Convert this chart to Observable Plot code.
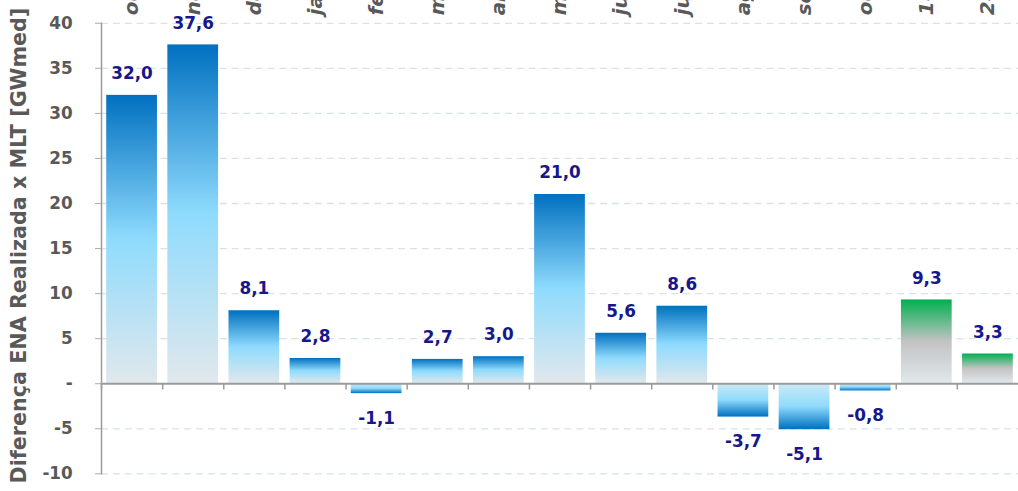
<!DOCTYPE html>
<html>
<head>
<meta charset="utf-8">
<script src="https://cdn.jsdelivr.net/npm/d3@7"></script>
<script src="https://cdn.jsdelivr.net/npm/@observablehq/plot@0.6"></script>
<style>
  html, body { margin: 0; padding: 0; background: #fff; overflow: hidden; }
  #chart { width: 1018px; height: 491px; overflow: hidden; }
</style>
</head>
<body>
<div id="chart"></div>
<script>
const categories = ["out/23","nov/23","dez/23","jan/24","fev/24","mar/24","abr/24","mai/24","jun/24","jul/24","ago/24","set/24","out/24","1ª sem. nov/24","2ª sem. nov/24"];
const values = [32.0, 37.6, 8.1, 2.8, -1.1, 2.7, 3.0, 21.0, 5.6, 8.6, -3.7, -5.1, -0.8, 9.3, 3.3];
const kinds = ["real","real","real","real","real","real","real","real","real","real","real","real","real","prev","prev"];
const yTicks = [-10, -5, 0, 5, 10, 15, 20, 25, 30, 35, 40];
const yTitle = "Diferença ENA Realizada x MLT [GWmed]";

const data = categories.map((c, i) => ({cat: c, value: values[i], kind: kinds[i]}));
const fmt = v => v.toFixed(1).replace(".", ",");

const W = 1028, ML = 102, MR = 0;
const step = (W - ML - MR) / categories.length;
const labelColor = "#17178c";
const axisText = "#595959";

const svg = Plot.plot({
  width: W, height: 491,
  marginLeft: ML, marginRight: MR, marginTop: 23, marginBottom: 13,
  x: {domain: categories, paddingInner: 0.17, paddingOuter: 0.085, round: false},
  y: {domain: [-10, 40]},
  style: {fontFamily: "'DejaVu Sans', sans-serif", background: "white", overflow: "visible"},
  marks: [
    Plot.gridY(yTicks.filter(t => t !== 0), {stroke: "#d8e2e8", strokeOpacity: 1, strokeDasharray: "7,5", strokeWidth: 1.3}),
    Plot.barY(data.filter(d => d.kind === "real" && d.value >= 0), {x: "cat", y: "value", fill: "url(#gBluePos)"}),
    Plot.barY(data.filter(d => d.kind === "real" && d.value < 0), {x: "cat", y: "value", fill: "url(#gBlueNeg)"}),
    Plot.barY(data.filter(d => d.kind === "prev"), {x: "cat", y: "value", fill: "url(#gGreen)"}),
    Plot.ruleY([0], {stroke: "#9a9a9a", strokeWidth: 2}),
    Plot.ruleX(categories, {x: d => d, dx: -step / 2, y1: 0, y2: -0.7, stroke: "#9a9a9a", strokeWidth: 1.5}),
    Plot.frame({anchor: "left", stroke: "#9a9a9a", strokeWidth: 1.5}),
    Plot.axisY({ticks: yTicks, tickSize: 6, tickPadding: 23, tickFormat: d => d === 0 ? "-" : String(d),
      fontSize: 17, fontWeight: "bold", fill: axisText, stroke: "#aaaaaa", label: null}),
    Plot.axisX({anchor: "top", tickSize: 0, tickRotate: -90, textAnchor: "start", tickPadding: 8,
      fontSize: 20, fontWeight: "bold", fontStyle: "italic", fill: axisText, label: null}),
    Plot.text([yTitle], {frameAnchor: "left", textAnchor: "middle", rotate: -90, dx: -83, dy: -3,
      fontSize: 20.9, fontWeight: "bold", fill: axisText}),
    Plot.text(data.filter(d => d.value >= 0), {x: "cat", y: "value", text: d => fmt(d.value), dy: -22,
      fontSize: 17, fontWeight: "bold", fill: labelColor}),
    Plot.text(data.filter(d => d.value < 0), {x: "cat", y: "value", text: d => fmt(d.value), dy: 25,
      fontSize: 17, fontWeight: "bold", fill: labelColor})
  ]
});

svg.insertAdjacentHTML("afterbegin", `<defs>
  <linearGradient id="gBluePos" x1="0" y1="0" x2="0" y2="1">
    <stop offset="0" stop-color="#0070c0"/>
    <stop offset="0.5" stop-color="#8fdbfd"/>
    <stop offset="1" stop-color="#e1e8ec"/>
  </linearGradient>
  <linearGradient id="gBlueNeg" x1="0" y1="1" x2="0" y2="0">
    <stop offset="0" stop-color="#0070c0"/>
    <stop offset="0.5" stop-color="#8fdbfd"/>
    <stop offset="1" stop-color="#cdeaf6"/>
  </linearGradient>
  <linearGradient id="gGreen" x1="0" y1="0" x2="0" y2="1">
    <stop offset="0" stop-color="#00b050"/>
    <stop offset="0.5" stop-color="#c3c3c3"/>
    <stop offset="1" stop-color="#e1e8ec"/>
  </linearGradient>
</defs>`);

document.getElementById("chart").appendChild(svg);
</script>
</body>
</html>
